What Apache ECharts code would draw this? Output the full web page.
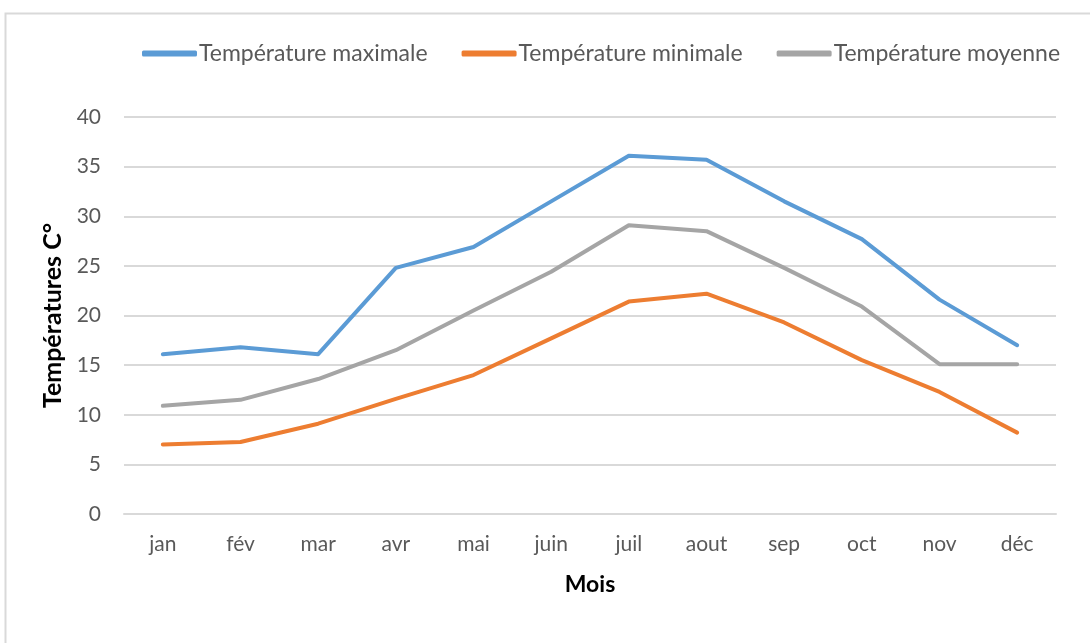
<!doctype html>
<html>
<head>
<meta charset="utf-8">
<title>Températures</title>
<script src="https://cdn.jsdelivr.net/npm/echarts@6/dist/echarts.min.js"></script>
<style>
  html, body { margin: 0; padding: 0; background: #fff; }
  #chart { width: 1090px; height: 643px; }
</style>
</head>
<body>
<div id="chart"></div>
<script>
var months = ['jan', 'fév', 'mar', 'avr', 'mai', 'juin', 'juil', 'aout', 'sep', 'oct', 'nov', 'déc'];
var tMax = [16.1, 16.8, 16.1, 24.8, 26.9, 31.5, 36.1, 35.7, 31.5, 27.7, 21.6, 17.0];
var tMin = [7.0, 7.25, 9.1, 11.6, 14.0, 17.7, 21.4, 22.2, 19.3, 15.5, 12.3, 8.2];
var tMoy = [10.9, 11.5, 13.6, 16.5, 20.5, 24.4, 29.1, 28.5, 24.8, 20.9, 15.1, 15.1];

var font = 'Lato, "Open Sans", sans-serif';
var chart = echarts.init(document.getElementById('chart'));

function lineSeries(name, data, color) {
    return {
        name: name,
        type: 'line',
        data: data,
        symbol: 'none',
        color: color,
        lineStyle: { width: 4, color: color, cap: 'round', join: 'round' },
        animation: false
    };
}

var option = {
    backgroundColor: '#fff',
    graphic: [{
        type: 'rect',
        shape: { x: 5.5, y: 13.5, width: 1200, height: 800 },
        style: { fill: 'none', stroke: '#d9d9d9', lineWidth: 2 },
        silent: true
    }],
    legend: {
        top: 37,
        left: 137,
        itemGap: 34,
        itemWidth: 55,
        itemHeight: 6,
        icon: 'roundRect',
        textStyle: { fontFamily: font, fontSize: 23, color: '#595959', padding: [0, 0, 0, -3] }
    },
    grid: { left: 124, right: 34, top: 117, bottom: 129 },
    xAxis: {
        type: 'category',
        data: months,
        boundaryGap: true,
        axisLine: { lineStyle: { color: '#d9d9d9', width: 2 } },
        axisTick: { show: false },
        axisLabel: { fontFamily: font, fontSize: 21, color: '#595959', margin: 20 },
        name: 'Mois',
        nameLocation: 'middle',
        nameGap: 59,
        nameTextStyle: { fontFamily: font, fontSize: 23, fontWeight: 'bold', color: '#000' }
    },
    yAxis: {
        type: 'value',
        min: 0,
        max: 40,
        interval: 5,
        axisLine: { show: false },
        axisTick: { show: false },
        splitLine: { lineStyle: { color: '#d9d9d9', width: 2 } },
        axisLabel: { fontFamily: font, fontSize: 21, color: '#595959', margin: 23 },
        name: 'Températures C°',
        nameLocation: 'middle',
        nameGap: 58,
        nameTextStyle: { fontFamily: font, fontSize: 25, fontWeight: 'bold', color: '#000' }
    },
    series: [
        lineSeries('Température maximale', tMax, '#5b9bd5'),
        lineSeries('Température minimale', tMin, '#ed7d31'),
        lineSeries('Température moyenne', tMoy, '#a5a5a5')
    ]
};
chart.setOption(option);
</script>
</body>
</html>
